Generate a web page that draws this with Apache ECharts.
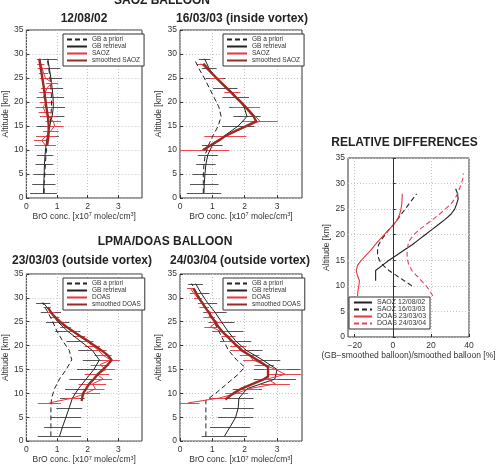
<!DOCTYPE html>
<html>
<head>
<meta charset="utf-8">
<script src="https://cdn.jsdelivr.net/npm/echarts@6/dist/echarts.min.js"></script>
<style>
  html, body { margin: 0; padding: 0; background: #fff; }
  #chart { width: 503px; height: 465px; }
</style>
</head>
<body>
<div id="chart"></div>
<script>
// ---- data (BrO conc. in 1e7 molec/cm3, altitude in km) ----
const gbAlt = [1, 3, 5, 7, 9, 11, 13, 15, 17, 19, 21, 23, 25, 27, 29];
const gbAlt4 = [1, 3, 5, 7, 9, 11, 13, 15, 17, 19, 21, 23, 25, 27, 29, 31, 33];

// 12/08/02 (SAOZ)
const p1Apriori = [0.58, 0.58, 0.60, 0.62, 0.64, 0.67, 0.71, 0.76, 0.80, 0.82, 0.82, 0.80, 0.77, 0.73, 0.68];
const p1Retr = [0.56, 0.57, 0.58, 0.59, 0.61, 0.64, 0.69, 0.76, 0.84, 0.88, 0.87, 0.84, 0.80, 0.75, 0.70];
const p1RetrErr = [0.44, 0.38, 0.35, 0.29, 0.27, 0.28, 0.37, 0.42, 0.40, 0.38, 0.36, 0.36, 0.36, 0.36, 0.32];
const p1BalAlt = [11, 12, 13, 14, 15, 16, 17, 18, 19, 20, 21, 22, 23, 24, 25, 26, 27, 28, 29];
const p1Bal = [0.62, 0.50, 0.66, 0.80, 0.92, 0.88, 0.72, 0.60, 0.55, 0.66, 0.55, 0.62, 0.68, 0.84, 0.62, 0.56, 0.52, 0.47, 0.44];
const p1BalErr = [0.35, 0.25, 0.30, 0.25, 0.30, 0.25, 0.25, 0.20, 0.25, 0.22, 0.22, 0.20, 0.20, 0.20, 0.18, 0.15, 0.15, 0.12, 0.10];
const p1SmoothAlt = [11, 13, 15, 17, 19, 21, 23, 25, 27, 29];
const p1Smooth = [0.68, 0.72, 0.73, 0.70, 0.65, 0.61, 0.57, 0.52, 0.47, 0.42];

// 16/03/03 (SAOZ, inside vortex)
const p2Apriori = [0.72, 0.72, 0.72, 0.74, 0.78, 0.88, 1.02, 1.18, 1.27, 1.20, 1.05, 0.90, 0.75, 0.58, 0.44];
const p2Retr = [0.74, 0.75, 0.77, 0.80, 0.86, 1.00, 1.38, 1.80, 2.07, 1.98, 1.72, 1.40, 1.10, 0.90, 0.76];
const p2RetrErr = [0.53, 0.44, 0.38, 0.30, 0.31, 0.32, 0.45, 0.50, 0.42, 0.46, 0.41, 0.38, 0.31, 0.23, 0.18];
const p2BalAlt = [10, 13, 16, 19, 22, 25, 28];
const p2Bal = [0.68, 1.40, 2.47, 2.05, 1.62, 1.12, 0.64];
const p2BalErr = [0.85, 0.65, 0.55, 0.42, 0.25, 0.20, 0.12];
const p2SmoothAlt = [10, 11, 12, 13, 14, 15, 16, 17, 18, 19, 20, 21, 22, 23, 24, 25, 26, 27, 28];
const p2Smooth = [0.72, 0.95, 1.20, 1.42, 1.72, 2.05, 2.35, 2.28, 2.15, 2.02, 1.88, 1.72, 1.58, 1.43, 1.28, 1.13, 0.98, 0.85, 0.72];

// 23/03/03 (DOAS, outside vortex)
const p3Apriori = [0.80, 0.80, 0.80, 0.80, 0.82, 0.92, 1.08, 1.30, 1.48, 1.40, 1.18, 1.00, 0.86, 0.70, 0.52];
const p3Retr = [1.08, 1.18, 1.29, 1.40, 1.50, 1.70, 1.95, 2.20, 2.38, 2.15, 1.75, 1.35, 1.02, 0.80, 0.55];
const p3RetrErr = [0.71, 0.60, 0.50, 0.42, 0.40, 0.44, 0.55, 0.55, 0.54, 0.46, 0.44, 0.41, 0.38, 0.33, 0.23];
const p3BalAlt = [8, 9, 10, 11, 12, 13, 14, 15, 16, 17, 18, 19, 20, 21, 22, 23, 24, 25, 26, 27, 28];
const p3Bal = [0.75, 1.50, 1.95, 2.25, 2.15, 2.50, 2.30, 2.60, 2.40, 2.75, 2.50, 2.35, 2.15, 1.95, 1.72, 1.50, 1.28, 1.12, 0.93, 0.82, 0.68];
const p3BalErr = [0.38, 0.25, 0.45, 0.30, 0.45, 0.30, 0.40, 0.30, 0.30, 0.30, 0.28, 0.25, 0.25, 0.22, 0.20, 0.20, 0.18, 0.15, 0.15, 0.12, 0.12];
const p3SmoothAlt = [8.4, 10, 11, 12, 13, 14, 15, 16, 17, 18, 19, 20, 21, 22, 23, 24, 25, 26, 27, 28];
const p3Smooth = [1.80, 1.85, 1.95, 2.05, 2.20, 2.33, 2.50, 2.65, 2.78, 2.65, 2.45, 2.22, 2.00, 1.75, 1.52, 1.29, 1.10, 0.93, 0.80, 0.70];

// 24/03/04 (DOAS, outside vortex)
const p4AprioriAlt = [1, 3, 5, 7, 8.5, 10, 12, 14, 15.5, 17, 19, 21, 23, 25, 27, 29, 31, 33];
const p4Apriori = [0.80, 0.80, 0.80, 0.80, 0.80, 1.10, 1.45, 1.80, 2.00, 1.75, 1.50, 1.35, 1.20, 1.05, 0.88, 0.70, 0.52, 0.36];
const p4Retr = [1.37, 1.55, 1.72, 1.80, 1.82, 2.08, 2.93, 3.00, 2.55, 2.05, 1.72, 1.48, 1.28, 1.08, 0.85, 0.65, 0.48];
const p4RetrErr = [0.70, 0.62, 0.55, 0.48, 0.45, 0.45, 0.65, 0.72, 0.55, 0.50, 0.48, 0.48, 0.40, 0.36, 0.30, 0.26, 0.23];
const p4BalAlt = [8, 9, 10, 11, 12, 13, 14, 15, 16, 17, 18, 19, 20, 21, 22, 23, 24, 25, 26, 27, 28, 29, 30, 31, 32];
const p4Bal = [0.25, 1.20, 1.75, 2.15, 2.95, 2.70, 3.25, 2.95, 2.60, 2.25, 2.15, 1.85, 1.80, 1.55, 1.50, 1.25, 0.95, 1.15, 0.90, 0.95, 0.75, 0.72, 0.55, 0.42, 0.32];
const p4BalErr = [0.35, 0.30, 0.35, 0.30, 0.45, 0.30, 0.50, 0.35, 0.30, 0.30, 0.30, 0.28, 0.25, 0.25, 0.22, 0.20, 0.20, 0.20, 0.18, 0.15, 0.15, 0.15, 0.12, 0.12, 0.10];
const p4SmoothAlt = [8.7, 10, 11, 12, 13, 13.5, 15.5, 16.5, 18, 19, 20, 21, 22, 23, 24, 25, 26, 27, 28, 29, 30, 31, 32];
const p4Smooth = [1.40, 1.65, 1.90, 2.25, 2.60, 2.72, 2.72, 2.50, 2.15, 1.92, 1.75, 1.60, 1.45, 1.30, 1.18, 1.08, 0.98, 0.88, 0.78, 0.68, 0.58, 0.50, 0.41];

// relative differences (%)
const relSaoz1Alt = [11, 13, 14, 15, 16, 17, 18, 19, 20, 21, 22, 23, 24, 25, 26, 27, 28, 29];
const relSaoz1 = [-9, -9, -5.5, -2, 2, 6, 10, 13.5, 17, 20.5, 24, 27.5, 30.5, 32.5, 33.5, 34.3, 34, 33];
const relSaoz2Alt = [10, 11, 12, 13, 14, 15, 16, 17, 18, 19, 20, 21, 22, 23, 24, 25, 26, 27, 28];
const relSaoz2 = [10, 6, 2, -2, -5, -7, -8, -8, -7.5, -6, -4, -2, 0.5, 2.5, 4.5, 6.5, 8.5, 10.5, 12.5];
const relDoas3Alt = [8, 9, 10, 11, 12, 13, 14, 15, 16, 17, 18, 19, 20, 21, 22, 23, 24, 25, 26, 27, 28];
const relDoas3 = [-18.5, -18.3, -17.8, -17.5, -18.5, -19.2, -18.5, -16.5, -14, -11.5, -9.3, -7, -4.5, -2, 0.5, 2.5, 3.6, 4.3, 4.7, 4.9, 5];
const relDoas4Alt = [8, 9, 10, 11, 12, 13, 14, 15, 16, 17, 18, 19, 20, 21, 22, 23, 24, 25, 26, 27, 28, 29, 30, 31, 32];
const relDoas4 = [21, 19.5, 17.5, 15, 12.5, 10, 8.5, 7.8, 7.5, 7.6, 8, 9, 11, 14, 17.5, 21, 24.5, 27.5, 30.5, 32.5, 34, 35, 36, 36.8, 37];

const concTicks = [0, 1, 2, 3];
const relTicks = [-20, 0, 20, 40];

// ---- styling ----
const FONT = '"Liberation Sans", Arial, Helvetica, sans-serif';
const RED = '#e8343e';
const DARKRED = '#992b22';
const BLACK = '#222';

const pts = (xs, alts) => xs.map((v, i) => [v, alts[i]]);
const bars = (xs, alts, errs) => xs.map((v, i) => [v, alts[i], errs[i]]);

function errorBar(color) {
  return function (params, api) {
    const v = api.value(0);
    const alt = api.value(1);
    const e = api.value(2);
    const a = api.coord([v - e, alt]);
    const b = api.coord([v + e, alt]);
    return {
      type: 'line',
      shape: { x1: a[0], y1: Math.round(a[1]) + 0.5, x2: b[0], y2: Math.round(b[1]) + 0.5 },
      style: { stroke: color, lineWidth: 1 }
    };
  };
}

function lineSeries(i, name, data, color, width, type) {
  return {
    type: 'line', name: name, xAxisIndex: i, yAxisIndex: i, data: data,
    symbol: 'none', smooth: false, animation: false, silent: true,
    lineStyle: { color: color, width: width, type: type || 'solid' },
    itemStyle: { color: color }
  };
}

function barSeries(i, data, color) {
  return {
    type: 'custom', xAxisIndex: i, yAxisIndex: i, data: data,
    renderItem: errorBar(color), encode: { x: 0, y: 1 }, clip: true,
    animation: false, silent: true
  };
}

const panels = [
  { rect: [20, 30], bal: 'SAOZ', aprAlt: gbAlt, apr: p1Apriori, retAlt: gbAlt, ret: p1Retr, retErr: p1RetrErr,
    balAlt: p1BalAlt, balV: p1Bal, balErr: p1BalErr, smAlt: p1SmoothAlt, sm: p1Smooth },
  { rect: [180, 30], bal: 'SAOZ', aprAlt: gbAlt, apr: p2Apriori, retAlt: gbAlt, ret: p2Retr, retErr: p2RetrErr,
    balAlt: p2BalAlt, balV: p2Bal, balErr: p2BalErr, smAlt: p2SmoothAlt, sm: p2Smooth },
  { rect: [20, 274], bal: 'DOAS', aprAlt: gbAlt, apr: p3Apriori, retAlt: gbAlt, ret: p3Retr, retErr: p3RetrErr,
    balAlt: p3BalAlt, balV: p3Bal, balErr: p3BalErr, smAlt: p3SmoothAlt, sm: p3Smooth },
  { rect: [180, 274], bal: 'DOAS', aprAlt: p4AprioriAlt, apr: p4Apriori, retAlt: gbAlt4, ret: p4Retr, retErr: p4RetrErr,
    balAlt: p4BalAlt, balV: p4Bal, balErr: p4BalErr, smAlt: p4SmoothAlt, sm: p4Smooth }
];

const grids = [];
const xAxes = [];
const yAxes = [];
const series = [];
const legends = [];

const axisText = { fontSize: 8.5, color: '#333', fontFamily: FONT };
const splitDotted = { show: true, lineStyle: { color: '#c4c4c4', type: [1, 2], width: 1 } };

function yAxisFor(i) {
  return {
    type: 'value', gridIndex: i, min: 0, max: 35, interval: 5,
    name: 'Altitude [km]', nameLocation: 'middle', nameGap: 13,
    nameTextStyle: axisText,
    axisLine: { show: false },
    axisTick: { show: true, inside: true, length: 3, lineStyle: { color: '#333' } },
    axisLabel: Object.assign({ margin: 3 }, axisText),
    splitLine: splitDotted
  };
}

panels.forEach((p, i) => {
  grids.push({ left: p.rect[0], top: p.rect[1], width: 122, height: 168, show: true, borderColor: '#333', borderWidth: 1 });
  xAxes.push({
    type: 'value', gridIndex: i, min: 0, max: 3.77, interval: 1,
    name: 'BrO conc. [x10{s|7} molec/cm{s|3}]', nameLocation: 'middle', nameGap: 13,
    nameTextStyle: Object.assign({ rich: { s: { fontSize: 5.5, verticalAlign: 'top', fontFamily: FONT, color: '#333' } } }, axisText),
    axisLine: { show: false },
    axisTick: { show: true, inside: true, length: 3, customValues: concTicks, lineStyle: { color: '#333' } },
    axisLabel: Object.assign({ margin: 4, customValues: concTicks, formatter: v => (concTicks.indexOf(v) >= 0 ? String(v) : '') }, axisText),
    splitLine: splitDotted
  });
  yAxes.push(yAxisFor(i));

  const names = ['GB a priori', 'GB retrieval', p.bal, 'smoothed ' + p.bal];
  series.push(barSeries(i, bars(p.ret, p.retAlt, p.retErr), '#555'));
  series.push(lineSeries(i, names[0], pts(p.apr, p.aprAlt), BLACK, 1, [5, 3]));
  series.push(lineSeries(i, names[1], pts(p.ret, p.retAlt), BLACK, 1));
  series.push(barSeries(i, bars(p.balV, p.balAlt, p.balErr), '#ec4650'));
  series.push(lineSeries(i, names[2], pts(p.balV, p.balAlt), RED, 1));
  series.push(lineSeries(i, names[3], pts(p.sm, p.smAlt), DARKRED, 2.4));

  legends.push({
    data: names, left: p.rect[0] + 43, top: p.rect[1] + 4, orient: 'vertical',
    itemWidth: 20, itemHeight: 7.5, itemGap: 0, padding: [2, 4, 2, 3],
    borderColor: '#333', borderWidth: 1, backgroundColor: '#fff',
    textStyle: { fontSize: 6.5, color: '#333', fontFamily: FONT },
    itemStyle: { opacity: 0 }, selectedMode: false
  });
});

// relative differences panel
grids.push({ left: 348, top: 158, width: 121, height: 179, show: true, borderColor: '#333', borderWidth: 1 });
xAxes.push({
  type: 'value', gridIndex: 4, min: -23.5, max: 40,
  name: '(GB\u2212smoothed balloon)/smoothed balloon [%]', nameLocation: 'middle', nameGap: 11,
  nameTextStyle: axisText,
  axisLine: { show: false },
  axisTick: { show: true, inside: true, length: 3, customValues: relTicks, lineStyle: { color: '#333' } },
  axisLabel: Object.assign({ margin: 4, customValues: relTicks, formatter: v => String(v).replace('-', '\u2212') }, axisText),
  splitLine: splitDotted
});
yAxes.push(Object.assign(yAxisFor(4), { nameGap: 15 }));

const relNames = ['SAOZ 12/08/02', 'SAOZ 16/03/03', 'DOAS 23/03/03', 'DOAS 24/03/04'];
const zeroLine = lineSeries(4, relNames[0], pts(relSaoz1, relSaoz1Alt), BLACK, 1.1);
zeroLine.markLine = {
  silent: true, symbol: 'none', label: { show: false }, animation: false,
  lineStyle: { color: '#333', width: 1, type: 'solid' },
  data: [{ xAxis: 0 }]
};
series.push(zeroLine);
series.push(lineSeries(4, relNames[1], pts(relSaoz2, relSaoz2Alt), BLACK, 1.1, [5, 3]));
series.push(lineSeries(4, relNames[2], pts(relDoas3, relDoas3Alt), RED, 1.1));
series.push(lineSeries(4, relNames[3], pts(relDoas4, relDoas4Alt), '#e8405a', 1.1, [5, 3]));
legends.push({
  data: relNames, left: 349, top: 297, orient: 'vertical',
  itemWidth: 18, itemHeight: 7.8, itemGap: 0, padding: [2, 4, 2, 4],
  borderColor: '#333', borderWidth: 1, backgroundColor: '#fff',
  textStyle: { fontSize: 7, color: '#333', fontFamily: FONT },
  itemStyle: { opacity: 0 }, selectedMode: false
});

const titleFont = 'bold 12px ' + FONT;
const titles = [
  ['SAOZ BALLOON', 162, 1],
  ['12/08/02', 84, 18.5],
  ['16/03/03 (inside vortex)', 242, 18.5],
  ['LPMA/DOAS BALLOON', 165, 242],
  ['23/03/03 (outside vortex)', 82, 260.5],
  ['24/03/04 (outside vortex)', 240, 260.5],
  ['RELATIVE DIFFERENCES', 404.5, 143]
];

const chart = echarts.init(document.getElementById('chart'), null, { renderer: 'canvas' });
chart.setOption({
  animation: false,
  backgroundColor: '#fff',
  grid: grids,
  xAxis: xAxes,
  yAxis: yAxes,
  legend: legends,
  series: series,
  graphic: titles.map(t => ({
    type: 'text', x: t[1], y: t[2], silent: true,
    style: { text: t[0], font: titleFont, fill: '#222', textAlign: 'center', textVerticalAlign: 'middle' }
  }))
});
</script>
</body>
</html>
